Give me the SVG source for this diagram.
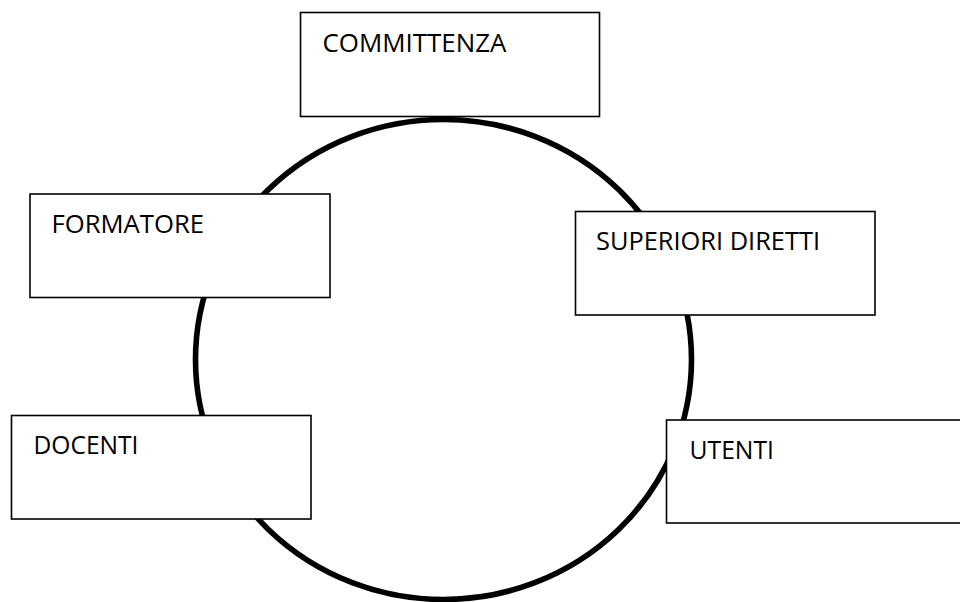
<svg xmlns="http://www.w3.org/2000/svg" width="960" height="602" viewBox="0 0 960 602">
  <style>
    .box { fill: #ffffff; stroke: #000000; stroke-width: 1.6; }
    .label { font-family: "Open Sans", "Liberation Sans", Arial, sans-serif; font-size: 25px; fill: #000000; }
    .ring { fill: none; stroke: #000000; stroke-width: 5.6; }
  </style>
  <rect x="0" y="0" width="960" height="602" fill="#ffffff"/>

  <!-- central ring linking all roles -->
  <g id="connectors">
    <ellipse class="ring" cx="443.5" cy="359.5" rx="248" ry="240"/>
  </g>

  <g id="committenza">
    <rect class="box" x="300.5" y="12.5" width="299" height="104"/>
    <text class="label" x="322.5" y="51.5" textLength="184" lengthAdjust="spacingAndGlyphs">COMMITTENZA</text>
  </g>

  <g id="formatore">
    <rect class="box" x="30" y="194" width="300" height="103.5"/>
    <text class="label" x="51.5" y="232.5" textLength="152.5" lengthAdjust="spacingAndGlyphs">FORMATORE</text>
  </g>

  <g id="superiori-diretti">
    <rect class="box" x="575.5" y="211.5" width="299.5" height="103.5"/>
    <text class="label" x="596" y="250" textLength="224" lengthAdjust="spacingAndGlyphs">SUPERIORI DIRETTI</text>
  </g>

  <g id="docenti">
    <rect class="box" x="11.5" y="415.5" width="299.5" height="103.5"/>
    <text class="label" x="33.5" y="454" textLength="105" lengthAdjust="spacingAndGlyphs">DOCENTI</text>
  </g>

  <g id="utenti">
    <rect class="box" x="666.5" y="420" width="300" height="103"/>
    <text class="label" x="689.5" y="459" textLength="84.5" lengthAdjust="spacingAndGlyphs">UTENTI</text>
  </g>
</svg>
